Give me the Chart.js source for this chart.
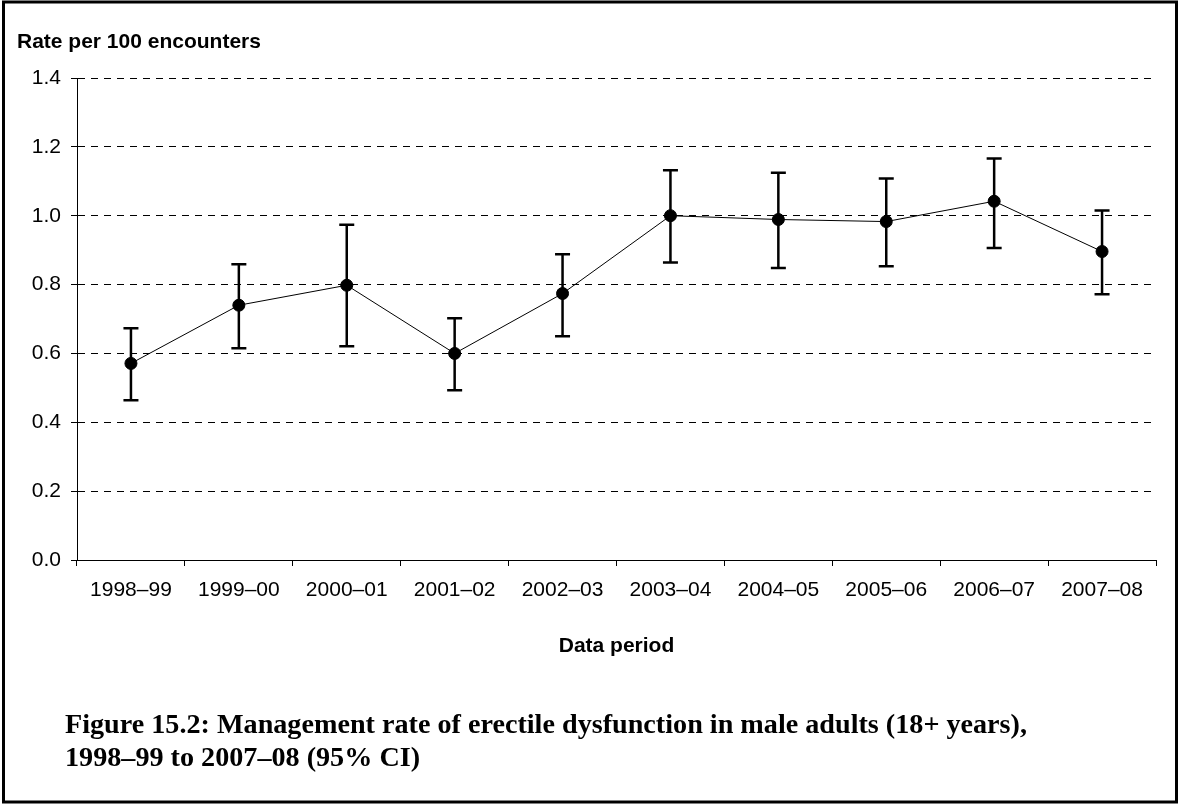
<!DOCTYPE html>
<html>
<head>
<meta charset="utf-8">
<script src="https://cdn.jsdelivr.net/npm/chart.js@4"></script>
<style>
  html, body { margin: 0; padding: 0; background: #fff; }
  canvas { display: block; }
</style>
</head>
<body>
<canvas id="chart" width="1181" height="805"></canvas>
<script>
// Data
const periods = ['1998–99', '1999–00', '2000–01', '2001–02', '2002–03', '2003–04', '2004–05', '2005–06', '2006–07', '2007–08'];
const rates = [0.571, 0.740, 0.798, 0.600, 0.774, 1.000, 0.989, 0.983, 1.042, 0.896];
const lowerCI = [0.464, 0.615, 0.621, 0.493, 0.650, 0.864, 0.848, 0.853, 0.906, 0.772];
const upperCI = [0.673, 0.859, 0.974, 0.702, 0.888, 1.132, 1.125, 1.108, 1.166, 1.015];
const yTicks = [0, 0.2, 0.4, 0.6, 0.8, 1.0, 1.2, 1.4];

const sans = '"Liberation Sans", Arial, sans-serif';
const serif = '"Liberation Serif", "Times New Roman", serif';

const captionLines = [
  'Figure 15.2: Management rate of erectile dysfunction in male adults (18+ years),',
  '1998–99 to 2007–08 (95% CI)'
];

// error bars (95% CI) drawn through the chart's scales
const errorBars = {
  id: 'errorBars',
  beforeDatasetsDraw(chart) {
    const { ctx, scales: { x, y } } = chart;
    ctx.save();
    ctx.strokeStyle = '#000';
    ctx.lineWidth = 2.5;
    for (let i = 0; i < periods.length; i++) {
      const px = x.getPixelForValue(i);
      const lo = y.getPixelForValue(lowerCI[i]);
      const hi = y.getPixelForValue(upperCI[i]);
      ctx.beginPath();
      ctx.moveTo(px, lo); ctx.lineTo(px, hi);
      ctx.moveTo(px - 7.5, lo); ctx.lineTo(px + 7.5, lo);
      ctx.moveTo(px - 7.5, hi); ctx.lineTo(px + 7.5, hi);
      ctx.stroke();
    }
    ctx.restore();
  }
};

// titles, caption and outer frame
const decorations = {
  id: 'decorations',
  afterDraw(chart) {
    const { ctx, chartArea } = chart;
    ctx.save();
    ctx.fillStyle = '#000';
    ctx.textBaseline = 'alphabetic';

    ctx.font = 'bold 21px ' + sans;
    ctx.textAlign = 'left';
    ctx.fillText('Rate per 100 encounters', 17, 48);

    ctx.textAlign = 'center';
    ctx.fillText('Data period', (chartArea.left + chartArea.right) / 2, 652);

    // fit the caption to the width it has in the figure
    let size = 26;
    ctx.font = 'bold ' + size + 'px ' + serif;
    size = size * 962 / ctx.measureText(captionLines[0]).width;
    ctx.font = 'bold ' + size.toFixed(2) + 'px ' + serif;
    ctx.textAlign = 'left';
    ctx.fillText(captionLines[0], 65, 733);
    ctx.fillText(captionLines[1], 65, 766);

    ctx.strokeStyle = '#000';
    ctx.lineWidth = 3;
    ctx.strokeRect(3.5, 2, 1173, 800);
    ctx.restore();
  }
};

new Chart(document.getElementById('chart'), {
  type: 'line',
  plugins: [errorBars, decorations],
  data: {
    labels: periods,
    datasets: [{
      data: rates,
      borderColor: '#000',
      borderWidth: 1,
      pointRadius: 6,
      pointBackgroundColor: '#000',
      pointBorderColor: '#000',
      tension: 0
    }]
  },
  options: {
    responsive: false,
    animation: false,
    layout: { padding: { left: 0, top: 78, right: 25, bottom: 0 } },
    plugins: { legend: { display: false }, tooltip: { enabled: false } },
    scales: {
      x: {
        offset: true,
        grid: { offset: true, drawOnChartArea: false, drawTicks: true, tickLength: 6, color: '#000' },
        border: { color: '#000', width: 1 },
        ticks: { color: '#000', font: { family: sans, size: 21 }, padding: 12, maxRotation: 0, autoSkip: false },
        afterFit(scale) { scale.height = 245; }
      },
      y: {
        min: 0,
        max: 1.4,
        afterBuildTicks(scale) { scale.ticks = yTicks.map(v => ({ value: v })); },
        grid: { color: '#000', lineWidth: 1, tickLength: 6, tickBorderDash: [] },
        border: { color: '#000', width: 1, dash: [7, 6] },
        ticks: {
          color: '#000',
          font: { family: sans, size: 21 },
          padding: 10,
          callback: v => v.toFixed(1)
        },
        afterFit(scale) { scale.width = 77; }
      }
    }
  }
});
</script>
</body>
</html>
